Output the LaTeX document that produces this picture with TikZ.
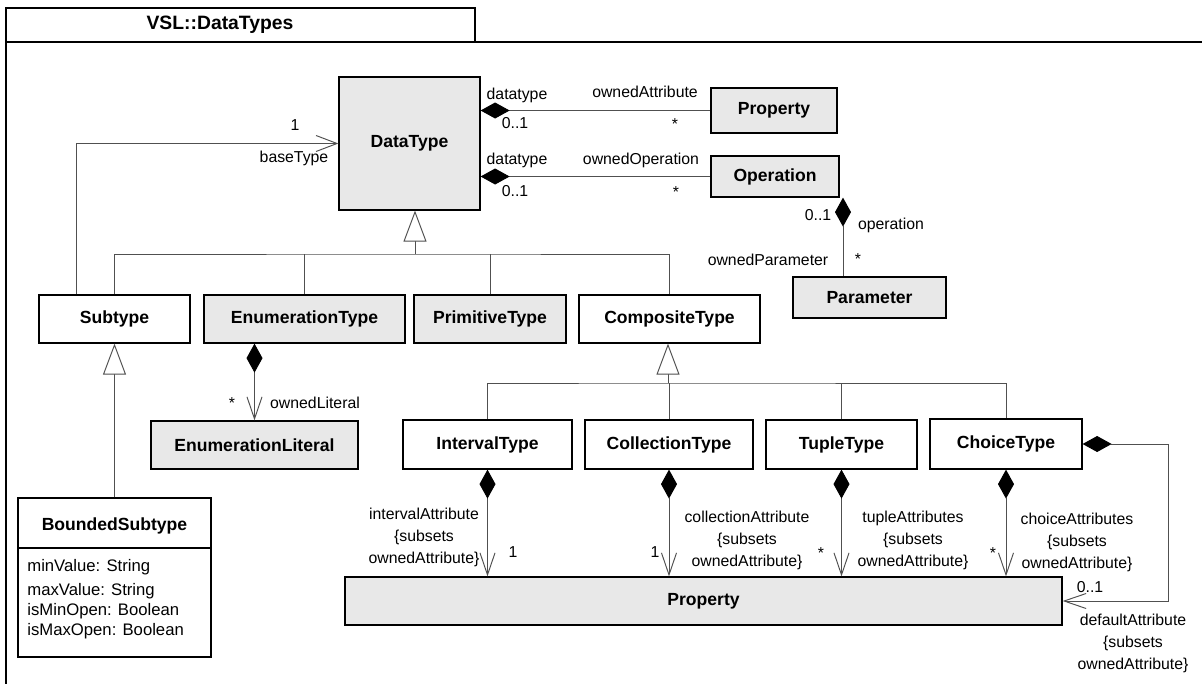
\documentclass[tikz,border=0pt]{standalone}
\usepackage{fontspec}
\setmainfont{Liberation Sans}
\usepackage{tikz}
\usetikzlibrary{arrows.meta, positioning}
\definecolor{boxgray}{HTML}{E8E8E8}
\definecolor{linegray}{HTML}{505050}
\tikzset{
  clsnode/.style={draw=black,line width=0.7pt,fill=white,inner sep=1pt,font=\bfseries\fontsize{10}{12}\selectfont},
  clsgray/.style={clsnode,fill=boxgray},
  lbl/.style={inner sep=0pt,align=center,font=\fontsize{9}{12.5}\selectfont},
  plainedge/.style={draw=linegray,line width=0.55pt},
  genedge/.style={plainedge,-{Triangle[open,fill=white,length=6.2mm,width=4.6mm]}},
  navedge/.style={plainedge,-{Straight Barb[length=4.2mm,width=3.2mm]}},
  compedge/.style={plainedge,{Diamond[fill=black,color=black,length=5.8mm,width=3.2mm]}-},
  compnav/.style={plainedge,{Diamond[fill=black,color=black,length=5.8mm,width=3.2mm]}-{Straight Barb[length=4.4mm,width=3.0mm]}},
}

\begin{document}
\begin{tikzpicture}
  \useasboundingbox (0,0) rectangle (24.04,-13.68);
  % package frame
  \draw[line width=1pt] (0.12,-13.68) -- (0.12,-0.16) -- (9.50,-0.16) -- (9.50,-0.84);
  \draw[line width=1pt] (0.12,-0.84) -- (24.04,-0.84);
  \node[font=\bfseries\fontsize{11}{13}\selectfont] (tTitle) at (4.40,-0.50) {VSL::DataTypes};
  % classes
  \node[clsgray,minimum width=2.82cm,minimum height=2.66cm] (nDataType) at (8.19,-2.87) {DataType};
  \node[clsgray,minimum width=2.52cm,minimum height=0.90cm] (nPropTop) at (15.48,-2.21) {Property};
  \node[clsgray,minimum width=2.56cm,minimum height=0.82cm] (nOperation) at (15.50,-3.53) {Operation};
  \node[clsgray,minimum width=3.06cm,minimum height=0.82cm] (nParameter) at (17.39,-5.95) {Parameter};
  \node[clsnode,minimum width=3.02cm,minimum height=0.96cm] (nSubtype) at (2.29,-6.38) {Subtype};
  \node[clsgray,minimum width=4.02cm,minimum height=0.96cm] (nEnumType) at (6.09,-6.38) {EnumerationType};
  \node[clsgray,minimum width=3.04cm,minimum height=0.96cm] (nPrimType) at (9.80,-6.38) {PrimitiveType};
  \node[clsnode,minimum width=3.62cm,minimum height=0.96cm] (nCompType) at (13.39,-6.38) {CompositeType};
  \node[clsgray,minimum width=4.14cm,minimum height=0.96cm] (nEnumLit) at (5.09,-8.90) {EnumerationLiteral};
  \node[clsnode,minimum width=3.38cm,minimum height=0.98cm] (nInterval) at (9.75,-8.89) {IntervalType};
  \node[clsnode,minimum width=3.36cm,minimum height=0.98cm] (nCollection) at (13.38,-8.89) {CollectionType};
  \node[clsnode,minimum width=3.02cm,minimum height=0.98cm] (nTuple) at (16.83,-8.89) {TupleType};
  \node[clsnode,minimum width=3.04cm,minimum height=1.00cm] (nChoice) at (20.12,-8.88) {ChoiceType};
  \node[clsgray,minimum width=14.34cm,minimum height=0.96cm] (nPropBot) at (14.07,-12.02) {Property};
  % bounded subtype: name compartment and attributes
  \node[clsnode,minimum width=3.86cm,minimum height=3.18cm] (nBounded) at (2.29,-11.55) {};
  \node[font=\bfseries\fontsize{10}{12}\selectfont] (tBounded) at (2.29,-10.52) {BoundedSubtype};
  \draw[line width=0.7pt] (nBounded.west |- 0,-10.96) -- (nBounded.east |- 0,-10.96);
  \node[lbl,align=left,anchor=west,font=\fontsize{9.5}{11.4}\selectfont] (tAttrs) at (0.54,-11.98)
    {minValue: String\\[2pt] maxValue: String\\ isMinOpen: Boolean\\ isMaxOpen: Boolean};
  % generalizations
  \coordinate (jData) at (8.30,-5.08);
  \draw[genedge] (jData) -- (nDataType.south -| jData);
  \draw[plainedge] (nSubtype.north) |- (jData) -| (nCompType.north);
  \draw[plainedge] (nEnumType.north) -- (nEnumType.north |- jData);
  \draw[plainedge] (nPrimType.north) -- (nPrimType.north |- jData);
  \draw[genedge] (nBounded.north) -- (nSubtype.south);
  \coordinate (jComp) at (13.36,-7.66);
  \draw[genedge] (jComp) -- (nCompType.south -| jComp);
  \draw[plainedge] (nInterval.north) |- (jComp) -| (nChoice.north);
  \draw[plainedge] (nCollection.north) -- (nCollection.north |- jComp);
  \draw[plainedge] (nTuple.north) -- (nTuple.north |- jComp);
  % associations
  \draw[navedge] ([xshift=-0.77cm]nSubtype.north) |- (nDataType.west);
  \draw[compedge] (nDataType.east |- nPropTop.west) -- (nPropTop.west);
  \draw[compedge] (nDataType.east |- nOperation.west) -- (nOperation.west);
  \coordinate (jOpPar) at (16.86,-4.50);
  \draw[compedge] (nOperation.south -| jOpPar) -- (nParameter.north -| jOpPar);
  \draw[compnav] (nEnumType.south -| nEnumLit.north) -- (nEnumLit.north);
  \draw[compnav] (nInterval.south) -- (nInterval.south |- nPropBot.north);
  \draw[compnav] (nCollection.south) -- (nCollection.south |- nPropBot.north);
  \draw[compnav] (nTuple.south) -- (nTuple.south |- nPropBot.north);
  \draw[compnav] (nChoice.south) -- (nChoice.south |- nPropBot.north);
  \draw[compnav] (nChoice.east) -- ++(1.72,0) |- (nPropBot.east);
  % role names and multiplicities
  \node[lbl] (lBaseOne) at (5.90,-2.50) {1};
  \node[lbl] (lBaseType) at (5.88,-3.16) {baseType};
  \node[lbl] (lDtA) at (10.34,-1.90) {datatype};
  \node[lbl] (lMulA) at (10.30,-2.46) {0..1};
  \node[lbl] (lOwnAttr) at (12.90,-1.84) {ownedAttribute};
  \node[lbl] (lStarA) at (13.50,-2.49) {*};
  \node[lbl] (lDtO) at (10.34,-3.20) {datatype};
  \node[lbl] (lMulO) at (10.30,-3.82) {0..1};
  \node[lbl] (lOwnOp) at (12.82,-3.20) {ownedOperation};
  \node[lbl] (lStarO) at (13.52,-3.85) {*};
  \node[lbl] (lMulP) at (16.36,-4.30) {0..1};
  \node[lbl] (lOper) at (17.82,-4.50) {operation};
  \node[lbl] (lStarP) at (17.16,-5.19) {*};
  \node[lbl] (lOwnPar) at (15.36,-5.20) {ownedParameter};
  \node[lbl] (lStarL) at (4.64,-8.07) {*};
  \node[lbl] (lOwnLit) at (6.30,-8.06) {ownedLiteral};
  \node[lbl] (lIntAttr) at (8.48,-10.74) {intervalAttribute\\\{subsets\\ownedAttribute\}};
  \node[lbl] (lIntOne) at (10.26,-11.04) {1};
  \node[lbl] (lColOne) at (13.10,-11.04) {1};
  \node[lbl] (lColAttr) at (14.94,-10.80) {collectionAttribute\\\{subsets\\ownedAttribute\}};
  \node[lbl] (lStarT) at (16.42,-11.07) {*};
  \node[lbl] (lTupAttr) at (18.26,-10.80) {tupleAttributes\\\{subsets\\ownedAttribute\}};
  \node[lbl] (lStarC) at (19.86,-11.07) {*};
  \node[lbl] (lChoAttr) at (21.54,-10.84) {choiceAttributes\\\{subsets\\ownedAttribute\}};
  \node[lbl] (lMulD) at (21.80,-11.74) {0..1};
  \node[lbl] (lDefAttr) at (22.66,-12.86) {defaultAttribute\\\{subsets\\ownedAttribute\}};
\end{tikzpicture}
\end{document}
